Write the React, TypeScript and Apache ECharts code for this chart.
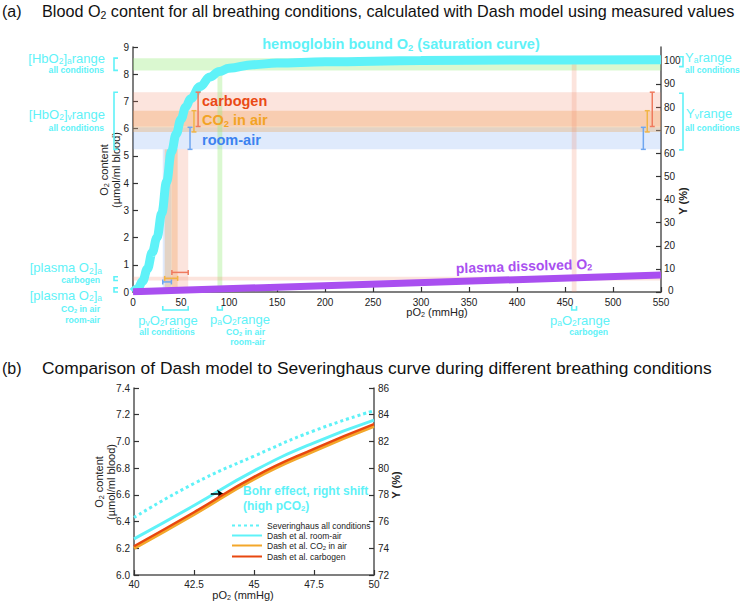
import React, { useEffect, useRef } from 'react';
import * as echarts from 'echarts';

// ---------------- data (panel a) ----------------
const hbPO2 = [0, 5, 10, 15, 20, 25, 30, 35, 40, 45, 50, 55, 60, 70, 80, 90, 100, 125, 150, 200, 300, 400, 550];
const hbContent = [0, 0.12, 0.4, 0.85, 1.45, 2.0, 2.9, 4.05, 5.15, 5.8, 6.35, 6.8, 7.1, 7.55, 7.9, 8.1, 8.22, 8.35, 8.41, 8.46, 8.5, 8.52, 8.53];
const plasmaPO2 = [0, 550];
const plasmaContent = [0.01, 0.62];

const condNames = ['room-air', 'CO_{2} in air', 'carbogen'];
const hbvLow = [5.24, 5.88, 6.08];
const hbvHigh = [6.05, 6.66, 7.34];
const pvLow = [31, 33, 40.5];
const pvHigh = [40, 46.5, 57.5];
const plasmaBarContent = [0.37, 0.5, 0.72];
const leftBarPO2 = [59.4, 63.5, 67.8];
const rightBarPO2 = [531.6, 535.7, 540.9];
const hbaRange = [8.14, 8.59];
const yaRange = [97.5, 101.8];
const yvRange = [61.5, 86];
const paAirRange = [88, 93];
const paCarbogenRange = [457, 462];
const paCarbogenTop = 8.45;
const plasmaCarbogenRange = [0.42, 0.56];
const plasmaAirRange = [0, 0.15];
const yPercentTicks = [0, 10, 20, 30, 40, 50, 60, 70, 80, 90, 100];

// ---------------- data (panel b) ----------------
const zoomPO2 = [40, 42.5, 45, 47.5, 50];
const severinghaus = [6.43, 6.685, 6.89, 7.08, 7.23];
const dashRoomAir = [6.27, 6.52, 6.78, 6.99, 7.16];
const dashCO2Air = [6.2, 6.455, 6.72, 6.93, 7.115];
const dashCarbogen = [6.215, 6.47, 6.735, 6.945, 7.13];
const bohrArrow = [[43.2, 6.605], [43.75, 6.605]];
const legendLabels = ['Severinghaus all conditions', 'Dash et al. room-air', 'Dash et al. CO_{2} in air', 'Dash et al. carbogen'];

// ---------------- styles ----------------
const FF = '"Liberation Sans", Arial, Helvetica, sans-serif';
const CY = '#5ff2f8';
const PURPLE = '#a94ff0';
const condColors = ['#3b82f0', '#f2a425', '#ea4a15'];
const errColors = ['#6ea6f0', '#f1b545', '#ef7a5e'];
const bandFills = ['rgba(110,160,240,0.22)', 'rgba(240,160,70,0.3)', 'rgba(240,130,100,0.22)'];
const GREEN_FILL = 'rgba(150,235,120,0.35)';
const PINK_FILL = 'rgba(240,130,100,0.22)';
const AX = '#555';

const plain = (s: string) => s.replace(/_\{([^}]*)\}/g, '$1');
function md(s: string) {
  return s
    .split(/(_\{[^}]*\})/)
    .filter((p) => p.length > 0)
    .map((p) => (p.startsWith('_{') ? `{s|${p.slice(2, -1)}}` : `{n|${p}}`))
    .join('');
}
function richStyles(fs: number, fill: string, weight = 'normal') {
  return {
    n: { fontSize: fs, lineHeight: Math.round(fs * 1.12), fill, fontWeight: weight, fontFamily: FF },
    s: {
      fontSize: Math.round(fs * 0.65 * 10) / 10,
      lineHeight: Math.round(fs * 0.5),
      verticalAlign: 'bottom',
      fill,
      fontWeight: weight,
      fontFamily: FF,
    },
  };
}
function T(x: number, y: number, text: string, fs: number, fill: string, opts: any = {}) {
  return {
    type: 'text',
    x,
    y,
    rotation: opts.rotation || 0,
    silent: true,
    z: 100,
    style: {
      text: md(text),
      align: opts.align || 'left',
      verticalAlign: 'middle',
      rich: richStyles(fs, fill, opts.weight || 'normal'),
      fill,
      fontSize: fs,
      fontFamily: FF,
      fontWeight: opts.weight || 'normal',
    },
  };
}

function axisBase(extra: any = {}) {
  return {
    axisLine: { show: true, onZero: false, lineStyle: { color: AX, width: 1.5 } },
    axisTick: { show: true, inside: true, length: 5, lineStyle: { color: '#333', width: 1.2 } },
    axisLabel: { color: '#222', fontSize: 10, fontFamily: FF, margin: 4 },
    splitLine: { show: false },
    ...extra,
  };
}

function vBarRender(params: any, api: any) {
  const x = api.value(0), lo = api.value(1), hi = api.value(2), ci = api.value(3);
  const a = api.coord([x, lo]);
  const b = api.coord([x, hi]);
  const c = 2.5;
  const st = { stroke: errColors[ci], lineWidth: 1.5 };
  return {
    type: 'group',
    children: [
      { type: 'line', shape: { x1: a[0], y1: a[1], x2: b[0], y2: b[1] }, style: st },
      { type: 'line', shape: { x1: a[0] - c, y1: a[1], x2: a[0] + c, y2: a[1] }, style: st },
      { type: 'line', shape: { x1: b[0] - c, y1: b[1], x2: b[0] + c, y2: b[1] }, style: st },
    ],
  };
}
function hBarRender(params: any, api: any) {
  const y = api.value(0), lo = api.value(1), hi = api.value(2), ci = api.value(3);
  const a = api.coord([lo, y]);
  const b = api.coord([hi, y]);
  const c = 2.5;
  const st = { stroke: errColors[ci], lineWidth: 1.5 };
  return {
    type: 'group',
    children: [
      { type: 'line', shape: { x1: a[0], y1: a[1], x2: b[0], y2: b[1] }, style: st },
      { type: 'line', shape: { x1: a[0], y1: a[1] - c, x2: a[0], y2: a[1] + c }, style: st },
      { type: 'line', shape: { x1: b[0], y1: b[1] - c, x2: b[0], y2: b[1] + c }, style: st },
    ],
  };
}

function buildOption() {
  const idx = [0, 1, 2];
  const bands: any[] = [];
  idx.forEach((i) =>
    bands.push([
      { xAxis: 0, yAxis: hbvLow[i], itemStyle: { color: bandFills[i] } },
      { xAxis: 550, yAxis: hbvHigh[i] },
    ])
  );
  const vTop = Math.min(...hbvLow);
  idx.forEach((i) =>
    bands.push([
      { xAxis: pvLow[i], yAxis: 0, itemStyle: { color: bandFills[i] } },
      { xAxis: pvHigh[i], yAxis: vTop },
    ])
  );
  bands.push([
    { xAxis: 0, yAxis: hbaRange[0], itemStyle: { color: GREEN_FILL } },
    { xAxis: 550, yAxis: hbaRange[1] },
  ]);
  bands.push([
    { xAxis: paAirRange[0], yAxis: 0, itemStyle: { color: GREEN_FILL } },
    { xAxis: paAirRange[1], yAxis: hbaRange[0] },
  ]);
  bands.push([
    { xAxis: paCarbogenRange[0], yAxis: 0, itemStyle: { color: PINK_FILL } },
    { xAxis: paCarbogenRange[1], yAxis: paCarbogenTop },
  ]);
  bands.push([
    { xAxis: 0, yAxis: plasmaCarbogenRange[0], itemStyle: { color: PINK_FILL } },
    { xAxis: 550, yAxis: plasmaCarbogenRange[1] },
  ]);

  const seriesNames = legendLabels.map(plain);
  const bottomSeries = [severinghaus, dashRoomAir, dashCO2Air, dashCarbogen];
  const bottomStyles = [
    { color: CY, width: 3, type: [3, 3] },
    { color: CY, width: 3, type: 'solid' },
    { color: '#f3a72a', width: 3.5, type: 'solid' },
    { color: '#e8470f', width: 2.5, type: 'solid' },
  ];

  return {
    animation: false,
    textStyle: { fontFamily: FF },
    grid: [
      { left: 133, top: 47, width: 528, height: 245 },
      { left: 134, top: 388, width: 240, height: 187 },
    ],
    xAxis: [
      axisBase({
        gridIndex: 0,
        type: 'value',
        min: 0,
        max: 550,
        interval: 50,
        axisLabel: { color: '#222', fontSize: 10, fontFamily: FF, margin: 5 },
      }),
      axisBase({
        gridIndex: 1,
        type: 'value',
        min: 40,
        max: 50,
        interval: 2.5,
        axisLabel: { color: '#222', fontSize: 10, fontFamily: FF, margin: 4, formatter: (v: number) => String(v) },
      }),
    ],
    yAxis: [
      axisBase({ gridIndex: 0, type: 'value', min: 0, max: 9, interval: 1, position: 'left' }),
      axisBase({
        gridIndex: 0,
        type: 'value',
        min: 0,
        max: 106,
        interval: 10,
        position: 'right',
        axisTick: { show: true, inside: true, length: 5, customValues: yPercentTicks, lineStyle: { color: '#333', width: 1.2 } },
        axisLabel: {
          color: '#222',
          fontSize: 10,
          fontFamily: FF,
          margin: 3,
          customValues: yPercentTicks,
          formatter: (v: number) => (v > 100 ? '' : v === 0 ? '{z|0}' : String(v)),
          rich: { z: { fontSize: 10, color: '#222', fontFamily: FF, padding: [0, 0, 3, 4] } },
        },
      }),
      axisBase({
        gridIndex: 1,
        type: 'value',
        min: 6,
        max: 7.4,
        interval: 0.2,
        position: 'left',
        axisLabel: { color: '#222', fontSize: 10, fontFamily: FF, margin: 4, formatter: (v: number) => v.toFixed(1) },
      }),
      axisBase({ gridIndex: 1, type: 'value', min: 72, max: 86, interval: 2, position: 'right' }),
    ],
    legend: {
      data: seriesNames,
      orient: 'vertical',
      left: 226,
      top: 516,
      itemWidth: 30,
      itemHeight: 10,
      itemGap: 1,
      selectedMode: false,
      itemStyle: { opacity: 0 },
      formatter: (name: string) => md(legendLabels[seriesNames.indexOf(name)]),
      textStyle: {
        fontSize: 8.5,
        color: '#222',
        fontFamily: FF,
        rich: {
          n: { fontSize: 8.5, lineHeight: 11, color: '#222', fontFamily: FF },
          s: { fontSize: 6, lineHeight: 6, verticalAlign: 'bottom', color: '#222', fontFamily: FF },
        },
      },
    },
    series: [
      {
        type: 'line',
        name: 'bands',
        xAxisIndex: 0,
        yAxisIndex: 0,
        data: [],
        z: 1,
        silent: true,
        markArea: { silent: true, data: bands },
      },
      {
        type: 'line',
        name: 'hemoglobin bound O2',
        xAxisIndex: 0,
        yAxisIndex: 0,
        data: hbPO2.map((x, i) => [x, hbContent[i]]),
        symbol: 'none',
        smooth: 0.4,
        smoothMonotone: 'x',
        lineStyle: { color: CY, width: 9 },
        itemStyle: { color: CY },
        z: 4,
      },
      {
        type: 'line',
        name: 'plasma dissolved O2',
        xAxisIndex: 0,
        yAxisIndex: 0,
        data: plasmaPO2.map((x, i) => [x, plasmaContent[i]]),
        symbol: 'none',
        lineStyle: { color: PURPLE, width: 7 },
        itemStyle: { color: PURPLE },
        z: 5,
      },
      {
        type: 'custom',
        name: 'HbO2v error bars',
        xAxisIndex: 0,
        yAxisIndex: 0,
        renderItem: vBarRender,
        encode: { x: 0, y: [1, 2] },
        data: [
          ...idx.map((i) => [leftBarPO2[i], hbvLow[i], hbvHigh[i], i]),
          ...idx.map((i) => [rightBarPO2[i], hbvLow[i], hbvHigh[i], i]),
        ],
        z: 6,
        silent: true,
      },
      {
        type: 'custom',
        name: 'pvO2 error bars',
        xAxisIndex: 0,
        yAxisIndex: 0,
        renderItem: hBarRender,
        encode: { x: [1, 2], y: 0 },
        data: idx.map((i) => [plasmaBarContent[i], pvLow[i], pvHigh[i], i]),
        z: 6,
        silent: true,
      },
      ...bottomSeries.map((vals, k) => ({
        type: 'line',
        name: seriesNames[k],
        xAxisIndex: 1,
        yAxisIndex: 2,
        data: zoomPO2.map((x, i) => [x, vals[i]]),
        symbol: 'none',
        smooth: true,
        lineStyle: bottomStyles[k],
        itemStyle: { color: bottomStyles[k].color },
        z: 3 + k,
        markLine:
          k === 3
            ? {
                silent: true,
                symbol: ['none', 'arrow'],
                symbolSize: 7,
                label: { show: false },
                lineStyle: { color: '#000', width: 1.5, type: 'solid' },
                data: [[{ coord: bohrArrow[0] }, { coord: bohrArrow[1] }]],
              }
            : undefined,
      })),
    ],
  };
}

function buildGraphics(chart: any) {
  const px = (v: number) => chart.convertToPixel({ xAxisIndex: 0 }, v);
  const py = (v: number) => chart.convertToPixel({ yAxisIndex: 0 }, v);
  const pyR = (v: number) => chart.convertToPixel({ yAxisIndex: 1 }, v);
  const br = (pts: number[][]) => ({
    type: 'polyline',
    shape: { points: pts },
    style: { stroke: CY, lineWidth: 1.6 },
    silent: true,
    z: 100,
  });
  const leftBr = (lo: number, hi: number) => br([[118, py(hi)], [114, py(hi)], [114, py(lo)], [118, py(lo)]]);
  const rightBr = (lo: number, hi: number) => br([[679, pyR(hi)], [683, pyR(hi)], [683, pyR(lo)], [679, pyR(lo)]]);
  const botBr = (lo: number, hi: number) => br([[px(lo), 306], [px(lo), 310], [px(hi), 310], [px(hi), 306]]);
  const hvLo = Math.min(...hbvLow);
  const hvHi = Math.max(...hbvHigh);
  const D = '#111';
  const A = '#222';
  return [
    // titles
    T(2, 11, '(a)', 16, D),
    T(42, 11, 'Blood O_{2} content for all breathing conditions, calculated with Dash model using measured values', 16.2, D),
    T(2, 368, '(b)', 16, D),
    T(42, 368, 'Comparison of Dash model to Severinghaus curve during different breathing conditions', 17.4, D),
    // in-plot labels (a)
    T(401, 44, 'hemoglobin bound O_{2} (saturation curve)', 14.5, CY, { weight: 'bold', align: 'center' }),
    T(202, 101, condNames[2], 14.5, condColors[2], { weight: 'bold' }),
    T(202, 120, condNames[1], 14.5, condColors[1], { weight: 'bold' }),
    T(202, 140, condNames[0], 14.5, condColors[0], { weight: 'bold' }),
    T(524, 266, 'plasma dissolved O_{2}', 14, PURPLE, { weight: 'bold', align: 'center', rotation: 0.032 }),
    // left annotations
    T(105, 58, '[HbO_{2}]_{a}range', 13, CY, { align: 'right' }),
    T(104, 69.5, 'all conditions', 8.6, CY, { weight: 'bold', align: 'right' }),
    T(105, 114, '[HbO_{2}]_{v}range', 13, CY, { align: 'right' }),
    T(104, 128, 'all conditions', 8.6, CY, { weight: 'bold', align: 'right' }),
    T(102, 267.5, '[plasma O_{2}]_{a}', 13, CY, { align: 'right' }),
    T(100, 279.5, 'carbogen', 8.6, CY, { weight: 'bold', align: 'right' }),
    T(102, 295, '[plasma O_{2}]_{a}', 13, CY, { align: 'right' }),
    T(100, 309, 'CO_{2} in air', 8.6, CY, { weight: 'bold', align: 'right' }),
    T(100, 320, 'room-air', 8.6, CY, { weight: 'bold', align: 'right' }),
    // below x axis
    T(168, 320, 'p_{v}O_{2}range', 13, CY, { align: 'center' }),
    T(167, 331.5, 'all conditions', 8.6, CY, { weight: 'bold', align: 'center' }),
    T(210, 319, 'p_{a}O_{2}range', 13, CY),
    T(265, 332, 'CO_{2} in air', 8.6, CY, { weight: 'bold', align: 'right' }),
    T(265, 342, 'room-air', 8.6, CY, { weight: 'bold', align: 'right' }),
    T(580, 320, 'p_{a}O_{2}range', 13, CY, { align: 'center' }),
    T(608, 332, 'carbogen', 8.6, CY, { weight: 'bold', align: 'right' }),
    // right annotations
    T(685, 57, 'Y_{a}range', 13, CY),
    T(685, 69.5, 'all conditions', 8.5, CY, { weight: 'bold' }),
    T(686, 113, 'Y_{v}range', 13, CY),
    T(685, 127.5, 'all conditions', 8.5, CY, { weight: 'bold' }),
    // axis names (a)
    T(437, 312, 'pO_{2} (mmHg)', 11, A, { align: 'center' }),
    T(104, 170, 'O_{2} content', 11, A, { align: 'center', rotation: Math.PI / 2 }),
    T(116, 170, '(µmol/ml blood)', 11, A, { align: 'center', rotation: Math.PI / 2 }),
    T(683, 201, 'Y (%)', 11, A, { weight: 'bold', align: 'center', rotation: Math.PI / 2 }),
    // axis names (b)
    T(243, 595, 'pO_{2} (mmHg)', 11, A, { align: 'center' }),
    T(99, 482, 'O_{2} content', 11, A, { align: 'center', rotation: Math.PI / 2 }),
    T(111, 482, '(µmol/ml blood)', 11, A, { align: 'center', rotation: Math.PI / 2 }),
    T(396, 485, 'Y (%)', 11, A, { weight: 'bold', align: 'center', rotation: Math.PI / 2 }),
    T(243, 491, 'Bohr effect, right shift', 12, CY, { weight: 'bold' }),
    T(243, 506, '(high pCO_{2})', 12, CY, { weight: 'bold' }),
    // brackets
    leftBr(hbaRange[0], hbaRange[1]),
    leftBr(hvLo, hvHi),
    leftBr(plasmaCarbogenRange[0], plasmaCarbogenRange[1]),
    leftBr(plasmaAirRange[0], plasmaAirRange[1]),
    rightBr(yaRange[0], yaRange[1]),
    rightBr(yvRange[0], yvRange[1]),
    botBr(Math.min(...pvLow), Math.max(...pvHigh)),
    botBr(paAirRange[0], paAirRange[1]),
    botBr(paCarbogenRange[0], paCarbogenRange[1]),
  ];
}

export default function App() {
  const ref = useRef<HTMLDivElement>(null);
  useEffect(() => {
    document.body.style.margin = '0';
    const chart = echarts.init(ref.current!, null, { renderer: 'svg' });
    chart.setOption(buildOption() as any);
    chart.setOption({ graphic: buildGraphics(chart) } as any);
    return () => chart.dispose();
  }, []);
  return <div ref={ref} style={{ width: 740, height: 605, background: '#fff' }} />;
}
